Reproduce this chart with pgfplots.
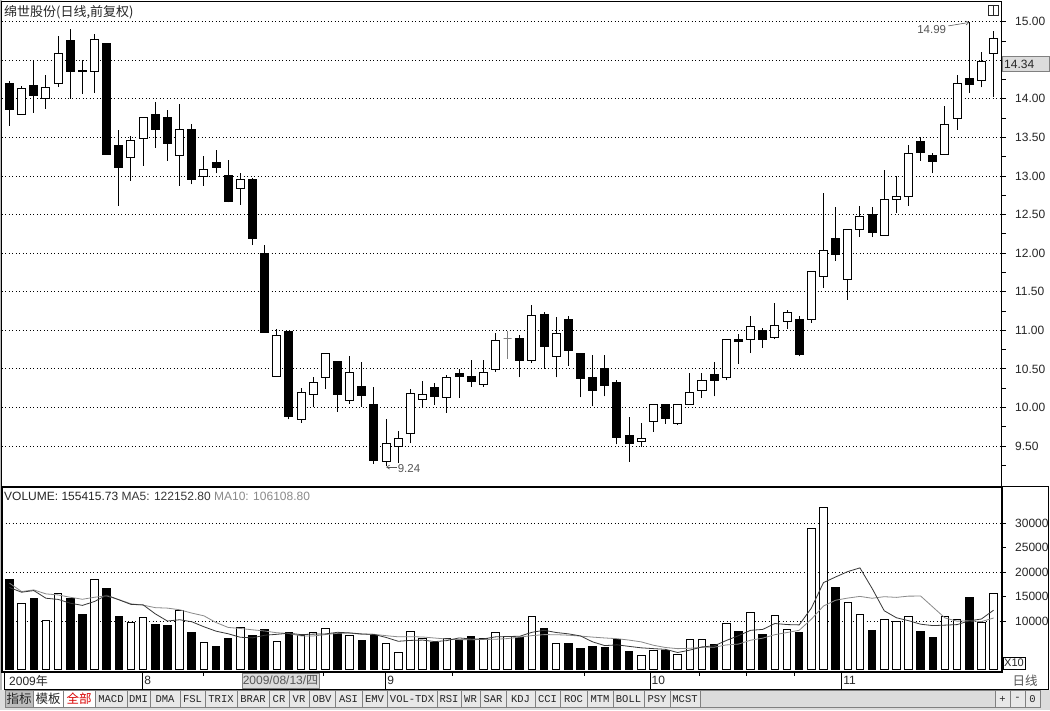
\documentclass[border=0pt]{standalone}
\usepackage{fontspec}
\setmainfont{Liberation Sans}
\newfontfamily\cjk{Noto Sans CJK SC}
\newfontfamily\mono{Liberation Mono}
\usepackage{pgfplots}
\usepackage{pgfplotstable}
\pgfplotsset{compat=1.18}
\usetikzlibrary{arrows.meta}
\definecolor{txt}{HTML}{262626}
\definecolor{txtg}{HTML}{555555}
\definecolor{ma5c}{HTML}{383838}
\definecolor{ma10c}{HTML}{8A8A8A}
\definecolor{btn}{HTML}{E8E8E8}
\definecolor{fillr}{HTML}{DCDCDC}
\definecolor{sel}{HTML}{BDBDBD}

\pgfplotstableread{
i o h l c k v m5 m10
0 14.205 14.235 13.65 13.867 1 18425 16850 17740
1 13.80 14.16 13.80 14.14 0 13493 15890 16030
2 14.17 14.50 13.82 14.045 1 14521 16230 16370
3 14.01 14.31 13.87 14.15 0 10137 14660 15550
4 14.205 14.81 14.15 14.587 0 15548 14425 15340
5 14.756 14.90 14.00 14.357 1 14521 13644 14860
6 14.37 14.50 14.066 14.35 1 11233 13192 14450
7 14.36 14.84 14.08 14.765 0 18562 14000 14860
8 14.717 14.717 13.277 13.277 1 16575 15288 15140
9 13.39 13.59 12.614 13.108 1 10822 14343 14384
10 13.238 13.52 12.94 13.464 0 9795 13397 13521
11 13.49 13.763 13.134 13.763 0 10753 13301 13247
12 13.793 13.962 13.368 13.60 1 9384 11466 12733
13 13.754 13.858 13.195 13.42 1 9178 9986 12637
14 13.268 13.936 12.874 13.607 0 12192 10260 12302
15 13.607 13.676 12.891 12.948 1 7740 9849 11623
16 12.991 13.26 12.874 13.086 0 5616 8822 11062
17 13.169 13.338 13.034 13.108 1 4863 7918 9692
18 13.0 13.21 12.657 12.674 1 6507 7384 8685
19 12.839 13.043 12.627 12.956 0 8630 6671 8466
20 12.956 12.98 12.105 12.192 1 7123 6548 8199
21 11.997 12.105 10.97 10.974 1 8288 7082 7952
22 10.40 11.013 10.40 10.935 0 5822 7274 7596
23 10.978 10.978 9.847 9.882 1 7671 7507 7445
24 9.847 10.257 9.804 10.193 0 7123 7205 6938
25 10.171 10.395 10.003 10.326 0 7671 7315 6931
26 10.391 10.702 10.236 10.702 0 8493 7356 7219
27 10.598 10.598 9.946 10.167 1 7466 7685 7479
28 10.093 10.667 10.05 10.456 0 7055 7562 7534
29 10.266 10.594 10.003 10.154 1 6096 7356 7281
30 10.042 10.266 9.269 9.312 1 7123 7247 7281
31 9.30 9.851 9.24 9.536 0 5411 6630 6993
32 9.493 9.70 9.278 9.60 0 3562 5849 6767
33 9.666 10.236 9.536 10.184 0 7945 6027 6795
34 10.098 10.344 10.003 10.163 0 6438 6096 6726
35 10.253 10.313 10.033 10.141 1 5548 5781 6514
36 10.132 10.417 9.933 10.391 0 6438 5986 6308
37 10.443 10.495 10.124 10.40 1 6301 6534 6192
38 10.395 10.62 10.27 10.335 1 6918 6329 6178
39 10.30 10.62 10.27 10.456 0 6438 6329 6212
40 10.495 10.97 10.465 10.87 0 7671 6753 6267
41 10.89 10.99 10.63 10.89 2 6781 6822 6404
42 10.89 10.935 10.39 10.613 1 6575 6877 6705
43 10.613 11.33 10.578 11.196 0 10959 7685 7007
44 11.209 11.243 10.50 10.796 1 8493 8096 7212
45 10.657 11.174 10.39 10.957 0 5411 7644 7199
46 11.143 11.187 10.543 10.743 1 5411 7370 7096
47 10.70 10.70 10.13 10.378 1 4452 6945 6911
48 10.387 10.674 10.013 10.222 1 4863 5726 6705
49 10.50 10.674 10.143 10.287 1 4658 4959 6527
50 10.317 10.361 9.522 9.609 1 6233 5123 6384
51 9.630 9.870 9.296 9.535 1 3836 4808 6089
52 9.565 9.796 9.491 9.604 0 2945 4507 5726
53 9.822 10.043 9.687 10.043 0 4041 4343 5034
54 10.043 10.043 9.787 9.857 1 3904 4192 4575
55 9.787 10.043 9.770 10.043 0 3050 3555 4339
56 10.043 10.448 10.043 10.20 0 6250 4038 4423
57 10.226 10.448 10.122 10.348 0 6250 4699 4603
58 10.426 10.587 10.143 10.352 1 5100 4911 4627
59 10.391 10.887 10.352 10.878 0 9400 6010 5101
60 10.887 10.948 10.565 10.857 1 7950 6990 5273
61 10.877 11.187 10.704 11.047 0 11780 8096 6067
62 10.993 11.028 10.769 10.885 1 7150 8276 6488
63 10.911 11.36 10.885 11.067 0 11170 9490 7200
64 11.11 11.257 11.015 11.231 0 8300 9270 7640
65 11.135 11.187 10.661 10.691 1 7620 9204 8097
66 11.144 11.762 11.10 11.762 0 28950 12638 10367
67 11.697 12.776 11.546 12.03 0 33250 17858 13067
68 12.185 12.604 11.904 11.987 1 16960 19016 14253
69 11.654 12.30 11.395 12.30 0 13820 20120 14695
70 12.30 12.612 12.206 12.474 0 11370 20874 15037
71 12.504 12.604 12.206 12.271 1 7960 16676 14655
72 12.224 13.079 12.224 12.69 0 10350 12096 14975
73 12.699 13.0 12.517 12.735 0 9800 10664 14838
74 12.733 13.40 12.617 13.294 0 10830 10066 15091
75 13.446 13.50 13.20 13.307 1 7760 9344 15105
76 13.26 13.294 13.035 13.19 1 6530 9058 12863
77 13.282 13.908 13.282 13.67 0 10830 9154 10621
78 13.748 14.309 13.597 14.20 0 10350 9264 9964
79 14.266 14.99 14.08 14.188 1 14710 10040 10053
80 14.231 14.603 14.149 14.49 0 9600 10408 9876
81 14.59 14.879 14.02 14.784 0 15541 12215 10611
}\data

\pgfplotsset{
  panel/.style={
    scale only axis, width=1000pt,
    xmin=-0.617, xmax=81.69, xtick=\empty,
    axis line style={line width=1pt, black},
    ytick pos=right, yticklabel pos=right,
    tick align=outside, major tick length=4pt, minor tick length=4pt,
    tick style={black, line width=0.8pt},
    yticklabel style={font=\fontsize{12}{12}\selectfont, text=txt, anchor=west, inner sep=0pt, xshift=9pt},
    /pgf/number format/assume math mode=true,
    major grid style={black, line width=0.8pt, dash pattern=on 0.9pt off 2.6pt},
  }
}

\begin{document}
\begin{tikzpicture}[x=1pt,y=1pt]
\fill[white] (0,0) rectangle (1050,710);
\fill[gray!55] (0,0) rectangle (1.5,710);

% ---------------- price panel ----------------
\begin{axis}[panel, at={(2pt,223pt)}, anchor=south west, height=485pt,
  ymin=8.969, ymax=15.255,
  ytick={9.5,10,10.5,11,11.5,12,12.5,13,13.5,14,15},
  minor ytick={9.25,9.75,...,14.8},
  extra y ticks={14.5}, extra y tick labels={},
  ymajorgrids=true,
  /pgf/number format/fixed, /pgf/number format/fixed zerofill, /pgf/number format/precision=2]
\pgfplotsinvokeforeach{0,...,81}{%
  \pgfplotstablegetelem{#1}{o}\of\data \edef\vo{\pgfplotsretval}%
  \pgfplotstablegetelem{#1}{h}\of\data \edef\vh{\pgfplotsretval}%
  \pgfplotstablegetelem{#1}{l}\of\data \edef\vl{\pgfplotsretval}%
  \pgfplotstablegetelem{#1}{c}\of\data \edef\vc{\pgfplotsretval}%
  \pgfplotstablegetelem{#1}{k}\of\data \edef\vk{\pgfplotsretval}%
  \pgfmathsetmacro\xa{#1-0.33}\pgfmathsetmacro\xb{#1+0.33}%
  \ifcase\vk\relax \def\fc{white}\def\lc{black}\or \def\fc{black}\def\lc{black}\else \def\fc{gray}\def\lc{gray}\fi
  \edef\cmd{\noexpand\addplot[draw=\lc, line width=1pt, forget plot] coordinates {(#1,\vl) (#1,\vh)};
    \noexpand\addplot[draw=\lc, fill=\fc, line width=1pt, forget plot] coordinates {(\xa,\vo) (\xb,\vo) (\xb,\vc) (\xa,\vc)} -- cycle;}%
  \cmd
}
\draw[txtg, line width=0.6pt, -{Straight Barb[length=3pt,width=4pt]}] ([xshift=-21pt,yshift=-3.5pt]axis cs:79,14.99) -- (axis cs:79,14.99);
\node[anchor=east, font=\fontsize{11.5}{11.5}\selectfont, text=txtg, inner sep=1pt] at ([xshift=-22pt,yshift=-7pt]axis cs:79,14.99) {14.99};
\draw[txtg, line width=0.6pt, {Straight Barb[length=3pt,width=4pt]}-] ([yshift=-1pt]axis cs:31,9.24) -- ([xshift=11pt,yshift=-1pt]axis cs:31,9.24);
\node[anchor=west, inner sep=0.5pt, font=\fontsize{11.5}{11.5}\selectfont, text=txtg] at ([xshift=11pt,yshift=-2pt]axis cs:31,9.24) {9.24};
\end{axis}

% ---------------- volume panel ----------------
\begin{axis}[panel, at={(2pt,38pt)}, anchor=south west, height=185pt,
  ymin=-440, ymax=37431,
  ytick={10000,15000,20000,25000,30000}, scaled y ticks=false,
  /pgf/number format/fixed, /pgf/number format/precision=0, /pgf/number format/1000 sep={},
  extra y ticks={10000,20000,30000}, extra y tick labels={},
  extra y tick style={grid=major, major tick length=0pt},
  axis line style={line width=1.2pt, black}]
\addplot[ybar, bar width=0.62, bar shift=0pt, fill=white, draw=black, line width=1pt,
  restrict expr to domain={\thisrow{k}==1}{0:0}] table[x=i, y=v] {\data};
\addplot[ybar, bar width=0.62, bar shift=0pt, fill=black, draw=black, line width=1pt,
  restrict expr to domain={\thisrow{k}==1}{1:1}] table[x=i, y=v] {\data};
\addplot[ma10c, line width=0.8pt, mark=none] table[x=i, y=m10] {\data};
\addplot[ma5c, line width=0.8pt, mark=none] table[x=i, y=m5] {\data};
\end{axis}

% ---------------- headers and labels ----------------
\node[anchor=west, inner sep=0pt, text=txt, font=\cjk\fontsize{13}{13}\selectfont] at (4,698) {绵世股份(日线,前复权)};
\node[anchor=west, inner sep=0pt, font=\fontsize{12}{12}\selectfont] at (4,214)
  {\textcolor{txt}{VOLUME: 155415.73} \textcolor{ma5c}{MA5: 122152.80} \textcolor{ma10c}{MA10: 106108.80}};

% current price box
\draw[fill=fillr, draw=gray] (1002,638.3) rectangle (1049.5,653.3);
\node[anchor=west, inner sep=0pt, text=txt, font=\fontsize{12}{12}\selectfont] at (1004,645.8) {14.34};
% icon
\draw[line width=0.8pt, txt] (988,695) rectangle (998,705);
\draw[line width=0.8pt, txt] (993,695) -- (993,705);

% volume label box
\draw[line width=1pt] (1002,223) -- (1048,223) -- (1048,37.5);
\draw[line width=0.8pt, black] (1003,41) rectangle (1025,53);
\node[inner sep=0pt, text=txt, font=\fontsize{11}{11}\selectfont] at (1014,47) {X10};

% ---------------- date strip ----------------
\draw[line width=0.8pt] (4,20.5) -- (1048,20.5);
\draw[line width=0.8pt] (4,20.5) -- (4,38);
\draw[line width=0.8pt] (1048,20.5) -- (1048,38);
\node[anchor=west, inner sep=0pt, text=txt, font=\fontsize{12}{12}\selectfont] at (9,29.3) {2009{\cjk 年}};
\foreach \x/\m in {142.7/8, 385.7/9, 650/10, 841.7/11}{
  \draw[line width=0.8pt] (\x,20.5) -- (\x,38);
  \node[anchor=west, inner sep=0pt, text=txt, font=\fontsize{12}{12}\selectfont] at (\x+1.5,29.3) {\m};
}
\foreach \x in {203, 323.3, 452.3, 584.3, 699, 746.7, 794.3}{
  \draw[line width=0.8pt] (\x,38) -- (\x,34);
}
\draw[fill=fillr, draw=gray] (242,21.5) rectangle (319,37);
\node[inner sep=0pt, text=txtg, font=\fontsize{12}{12}\selectfont] at (280.5,29.3) {2009/08/13/{\cjk 四}};
\node[inner sep=0pt, text=txtg, font=\cjk\fontsize{12.5}{12.5}\selectfont] at (1025,29.3) {日线};

% ---------------- tab bar ----------------
\fill[fillr] (0,0) rectangle (1050,20.5);
\draw[fill=sel, draw=gray] (5,2.5) rectangle (33,20);
\node[text=txt, font=\cjk\fontsize{12.5}{12.5}\selectfont, inner sep=0pt] at (19,11) {指标};
\draw[fill=white, draw=gray] (33,2.5) rectangle (63,20);
\node[text=txt, font=\cjk\fontsize{12.5}{12.5}\selectfont, inner sep=0pt] at (48,11) {模板};
\draw[fill=white, draw=gray] (63,2.5) rectangle (95,20);
\node[text=red!85!black, font=\cjk\fontsize{12.5}{12.5}\selectfont, inner sep=0pt] at (79,11) {全部};
\foreach \a/\b/\t in {95/127/MACD, 127/150/DMI, 150/180/DMA, 180/205/FSL, 205/237/TRIX, 237/269/BRAR,
  269/289/CR, 289/309/VR, 309/335/OBV, 335/362/ASI, 362/387/EMV, 387/437/VOL-TDX, 437/461/RSI,
  461/480/WR, 480/506/SAR, 506/535/KDJ, 535/560/CCI, 560/587/ROC, 587/613/MTM, 613/644/BOLL,
  644/670/PSY, 670/700/MCST}{
  \draw[fill=btn, draw=gray] (\a,2.5) rectangle (\b,20);
  \node[text=txt, font=\mono\fontsize{10.5}{10.5}\selectfont, inner sep=0pt] at ({(\a+\b)/2},11) {\t};
}
\draw[fill=fillr, draw=gray] (700,2.5) rectangle (995,20);
\foreach \a/\b/\t in {995/1010/+, 1010/1025/-, 1025/1040/0}{
  \draw[fill=btn, draw=gray] (\a,2.5) rectangle (\b,20);
  \node[text=txt, font=\mono\fontsize{10.5}{10.5}\selectfont, inner sep=0pt] at ({(\a+\b)/2},11) {\t};
}
\end{tikzpicture}
\end{document}
